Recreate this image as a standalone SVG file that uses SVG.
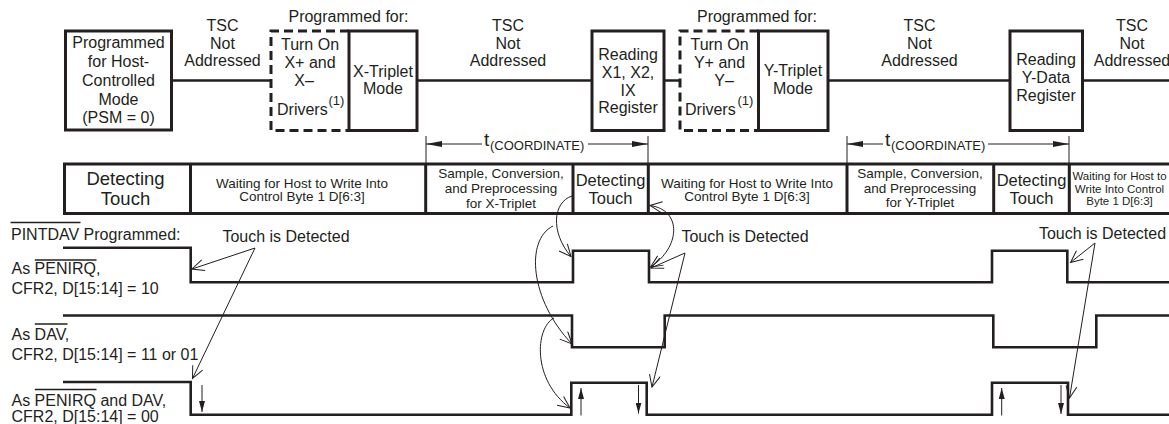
<svg xmlns="http://www.w3.org/2000/svg" width="1169" height="424" viewBox="0 0 1169 424">
<style>
text{font-family:"Liberation Sans",Arial,Helvetica,sans-serif;fill:#231f20}
.t16{font-size:16px}
.c{text-anchor:middle}
.big{font-size:18.5px}
.med{font-size:16.5px}
.sm{font-size:13.5px}
.xs{font-size:11.5px}
.sup{font-size:13px}
.sub{font-size:13px}
.tt{font-size:19px}
.box{fill:none;stroke:#231f20;stroke-width:3}
.dash{fill:none;stroke:#231f20;stroke-width:3;stroke-dasharray:9 5}
.wire{fill:none;stroke:#231f20;stroke-width:2.5}
.sig{fill:none;stroke:#231f20;stroke-width:2.6}
.thin{fill:none;stroke:#231f20;stroke-width:1}
.ov{stroke:#231f20;stroke-width:1.3}
.tl{fill:none;stroke:#231f20;stroke-width:3}
</style>
<defs>
<marker id="open" viewBox="0 0 14 12" refX="13" refY="6" markerWidth="14" markerHeight="12" markerUnits="userSpaceOnUse" orient="auto-start-reverse"><path d="M1,0.5 L13,6 L1,11.5" fill="none" stroke="#231f20" stroke-width="1"/></marker>
<marker id="solid" viewBox="0 0 16 6" refX="16" refY="3" markerWidth="16" markerHeight="6" markerUnits="userSpaceOnUse" orient="auto-start-reverse"><path d="M0,0 L16,3 L0,6 z" fill="#231f20"/></marker>
<marker id="solidSm" viewBox="0 0 11 6" refX="11" refY="3" markerWidth="11" markerHeight="6" markerUnits="userSpaceOnUse" orient="auto"><path d="M0,0 L11,3 L0,6 z" fill="#231f20"/></marker>
</defs>

<!-- top state row -->
<g id="connectors-top">
<path class="wire" d="M172,80.5 H271 M417,80.5 H592 M664,80.5 H680 M828,80.5 H1010 M1082.5,80.5 H1169"/>
</g>

<g id="node-host-mode">
<rect class="box" x="65.5" y="31" width="106" height="99"/>
<text class="t16 c" x="118.5" y="48">Programmed</text>
<text class="t16 c" x="118.5" y="67">for Host-</text>
<text class="t16 c" x="118.5" y="86">Controlled</text>
<text class="t16 c" x="118.5" y="104.5">Mode</text>
<text class="t16 c" x="118.5" y="123">(PSM = 0)</text>
</g>

<g id="label-tsc-1">
<text class="t16 c" x="222.5" y="31">TSC</text>
<text class="t16 c" x="222.5" y="49">Not</text>
<text class="t16 c" x="222.5" y="66">Addressed</text>
</g>

<g id="label-programmed-x">
<text class="t16 c" x="348.5" y="21.5">Programmed for:</text>
</g>

<g id="node-x-drivers">
<path class="dash" d="M349,31 H271 V130.5 H349"/>
<text class="t16 c" x="310" y="50">Turn On</text>
<text class="t16 c" x="310" y="67.5">X+ and</text>
<text class="t16 c" x="304" y="86">X–</text>
<text class="t16" x="277" y="115">Drivers</text>
<text class="sup" x="328.5" y="105">(1)</text>
</g>

<g id="node-x-triplet">
<rect class="box" x="349" y="31" width="68" height="99.5"/>
<text class="t16 c" x="383" y="76.5">X-Triplet</text>
<text class="t16 c" x="383" y="94">Mode</text>
</g>

<g id="label-tsc-2">
<text class="t16 c" x="508" y="31">TSC</text>
<text class="t16 c" x="508" y="49">Not</text>
<text class="t16 c" x="508" y="66">Addressed</text>
</g>

<g id="node-read-x">
<rect class="box" x="592" y="31" width="72" height="99.5"/>
<text class="t16 c" x="628" y="60">Reading</text>
<text class="t16 c" x="628" y="78">X1, X2,</text>
<text class="t16 c" x="628" y="95.5">IX</text>
<text class="t16 c" x="628" y="113">Register</text>
</g>

<g id="label-programmed-y">
<text class="t16 c" x="757" y="21.5">Programmed for:</text>
</g>

<g id="node-y-drivers">
<path class="dash" d="M758.5,31 H680 V130.5 H758.5"/>
<text class="t16 c" x="719.5" y="50">Turn On</text>
<text class="t16 c" x="719.5" y="67.5">Y+ and</text>
<text class="t16 c" x="724" y="86">Y–</text>
<text class="t16" x="685" y="115">Drivers</text>
<text class="sup" x="737.5" y="105">(1)</text>
</g>

<g id="node-y-triplet">
<rect class="box" x="758.5" y="31" width="69.5" height="99.5"/>
<text class="t16 c" x="793" y="76">Y-Triplet</text>
<text class="t16 c" x="793" y="93.5">Mode</text>
</g>

<g id="label-tsc-3">
<text class="t16 c" x="919.5" y="31">TSC</text>
<text class="t16 c" x="919.5" y="49">Not</text>
<text class="t16 c" x="919.5" y="66">Addressed</text>
</g>

<g id="node-read-y">
<rect class="box" x="1010" y="31" width="72.5" height="99.5"/>
<text class="t16 c" x="1046" y="65">Reading</text>
<text class="t16 c" x="1046" y="83">Y-Data</text>
<text class="t16 c" x="1046" y="100.5">Register</text>
</g>

<g id="label-tsc-4">
<text class="t16 c" x="1132" y="31">TSC</text>
<text class="t16 c" x="1132" y="49">Not</text>
<text class="t16 c" x="1132" y="66">Addressed</text>
</g>

<!-- t(COORDINATE) dimension markers -->
<g id="dim-coordinate-x">
<path class="thin" d="M426,136 V164 M648,136 V164"/>
<path class="thin" d="M426,144 H482" marker-start="url(#solid)"/>
<path class="thin" d="M588,144 H648" marker-end="url(#solid)"/>
<text x="484" y="146"><tspan class="tt">t</tspan></text>
<text class="sub" x="490" y="149.5">(COORDINATE)</text>
</g>
<g id="dim-coordinate-y">
<path class="thin" d="M847,136 V164 M1069,136 V164"/>
<path class="thin" d="M847,144 H883" marker-start="url(#solid)"/>
<path class="thin" d="M988,144 H1069" marker-end="url(#solid)"/>
<text x="885" y="146"><tspan class="tt">t</tspan></text>
<text class="sub" x="891" y="149.5">(COORDINATE)</text>
</g>

<!-- timeline -->
<g id="timeline">
<path class="tl" d="M1172,164 H64.5 V213.5 H1172"/>
<path class="tl" d="M190.5,164 V213.5 M425.7,164 V213.5 M573,164 V213.5 M648.3,164 V213.5 M847,164 V213.5 M993.7,164 V213.5 M1069.3,164 V213.5"/>
<g id="cell-detect-1">
<text class="big c" x="125.5" y="185">Detecting</text>
<text class="big c" x="125.5" y="205">Touch</text>
</g>
<g id="cell-wait-1">
<text class="sm c" x="302" y="187.5">Waiting for Host to Write Into</text>
<text class="sm c" x="302" y="200.5">Control Byte 1 D[6:3]</text>
</g>
<g id="cell-sample-x">
<text class="sm c" x="501" y="177.5">Sample, Conversion,</text>
<text class="sm c" x="501" y="192.5">and Preprocessing</text>
<text class="sm c" x="501" y="207.5">for X-Triplet</text>
</g>
<g id="cell-detect-2">
<text class="med c" x="610.5" y="186">Detecting</text>
<text class="med c" x="610.5" y="203.5">Touch</text>
</g>
<g id="cell-wait-2">
<text class="sm c" x="747" y="187.5">Waiting for Host to Write Into</text>
<text class="sm c" x="747" y="200.5">Control Byte 1 D[6:3]</text>
</g>
<g id="cell-sample-y">
<text class="sm c" x="920" y="177.5">Sample, Conversion,</text>
<text class="sm c" x="920" y="192.5">and Preprocessing</text>
<text class="sm c" x="920" y="206.5">for Y-Triplet</text>
</g>
<g id="cell-detect-3">
<text class="med c" x="1031.5" y="186">Detecting</text>
<text class="med c" x="1031.5" y="203.5">Touch</text>
</g>
<g id="cell-wait-3">
<text class="xs c" x="1119.5" y="180">Waiting for Host to</text>
<text class="xs c" x="1119.5" y="192.5">Write Into Control</text>
<text class="xs c" x="1119.5" y="205">Byte 1 D[6:3]</text>
</g>
</g>

<!-- signal labels -->
<g id="signal-labels">
<text class="t16" x="11" y="240">PINTDAV Programmed:</text>
<line class="ov" x1="10.5" y1="222.5" x2="80.5" y2="222.5"/>
<text class="t16" x="11.5" y="274">As PENIRQ,</text>
<line class="ov" x1="34.8" y1="260" x2="96.5" y2="260"/>
<text class="t16" x="11.5" y="293.5">CFR2, D[15:14] = 10</text>
<text class="t16" x="11.5" y="340">As DAV,</text>
<line class="ov" x1="34.8" y1="324" x2="67.5" y2="324"/>
<text class="t16" x="11.5" y="359.5">CFR2, D[15:14] = 11 or 01</text>
<text class="t16" x="11.5" y="405.5">As PENIRQ and DAV,</text>
<line class="ov" x1="34.8" y1="389.5" x2="96.5" y2="389.5"/>
<text class="t16" x="11.5" y="422">CFR2, D[15:14] = 00</text>
</g>

<!-- waveforms -->
<g id="waveforms">
<path id="wave-penirq" class="sig" d="M63,247.7 H190.7 V282.2 H573 V250.7 H649 V282.2 H992 V250.7 H1067.3 V282.2 H1169"/>
<path id="wave-dav" class="sig" d="M63,315.5 H572 V347.3 H664.7 V315.5 H993.3 V347.3 H1096.3 V315.5 H1169"/>
<path id="wave-penirq-dav" class="sig" d="M63,382 H190.7 V414.7 H571.3 V382.8 H646.7 V414.7 H992 V382.8 H1068 V414.7 H1169"/>
</g>

<!-- Touch is Detected labels -->
<g id="touch-labels">
<text class="t16 c" x="286" y="242">Touch is Detected</text>
<text class="t16 c" x="745" y="242">Touch is Detected</text>
<text class="t16 c" x="1102.5" y="239">Touch is Detected</text>
</g>

<!-- connectors / annotation arrows -->
<g id="connectors">
<path class="thin" d="M255,248 L192,269" marker-end="url(#open)"/>
<path class="thin" d="M255,248 L192.5,378.5" marker-end="url(#open)"/>
<path class="thin" d="M572,196 C553,202 550,232 571,256.5" marker-end="url(#open)"/>
<path class="thin" d="M553,226 C525,240 530,300 572,344" marker-end="url(#open)"/>
<path class="thin" d="M554,318 C535,328 532,380 570,408" marker-end="url(#open)"/>
<path class="thin" d="M650,205.5 C683,210 680,248 650.5,267" marker-start="url(#open)" marker-end="url(#open)"/>
<path class="thin" d="M685,253 L651,268" marker-end="url(#open)"/>
<path class="thin" d="M685,253 L652,387" marker-end="url(#open)"/>
<path class="thin" d="M1095,243 L1070.5,262.5" marker-end="url(#open)"/>
<path class="thin" d="M1095,243 L1069.5,398" marker-end="url(#open)"/>
<path class="thin" stroke-width="1.5" d="M202,385 V412" marker-end="url(#solidSm)"/>
<path class="thin" stroke-width="1.5" d="M581,415.5 V388" marker-end="url(#solidSm)"/>
<path class="thin" stroke-width="1.5" d="M638.5,385 V413.5" marker-end="url(#solidSm)"/>
<path class="thin" stroke-width="1.5" d="M1001.7,415.5 V388" marker-end="url(#solidSm)"/>
<path class="thin" stroke-width="1.5" d="M1061,385 V414" marker-end="url(#solidSm)"/>
</g>
</svg>
